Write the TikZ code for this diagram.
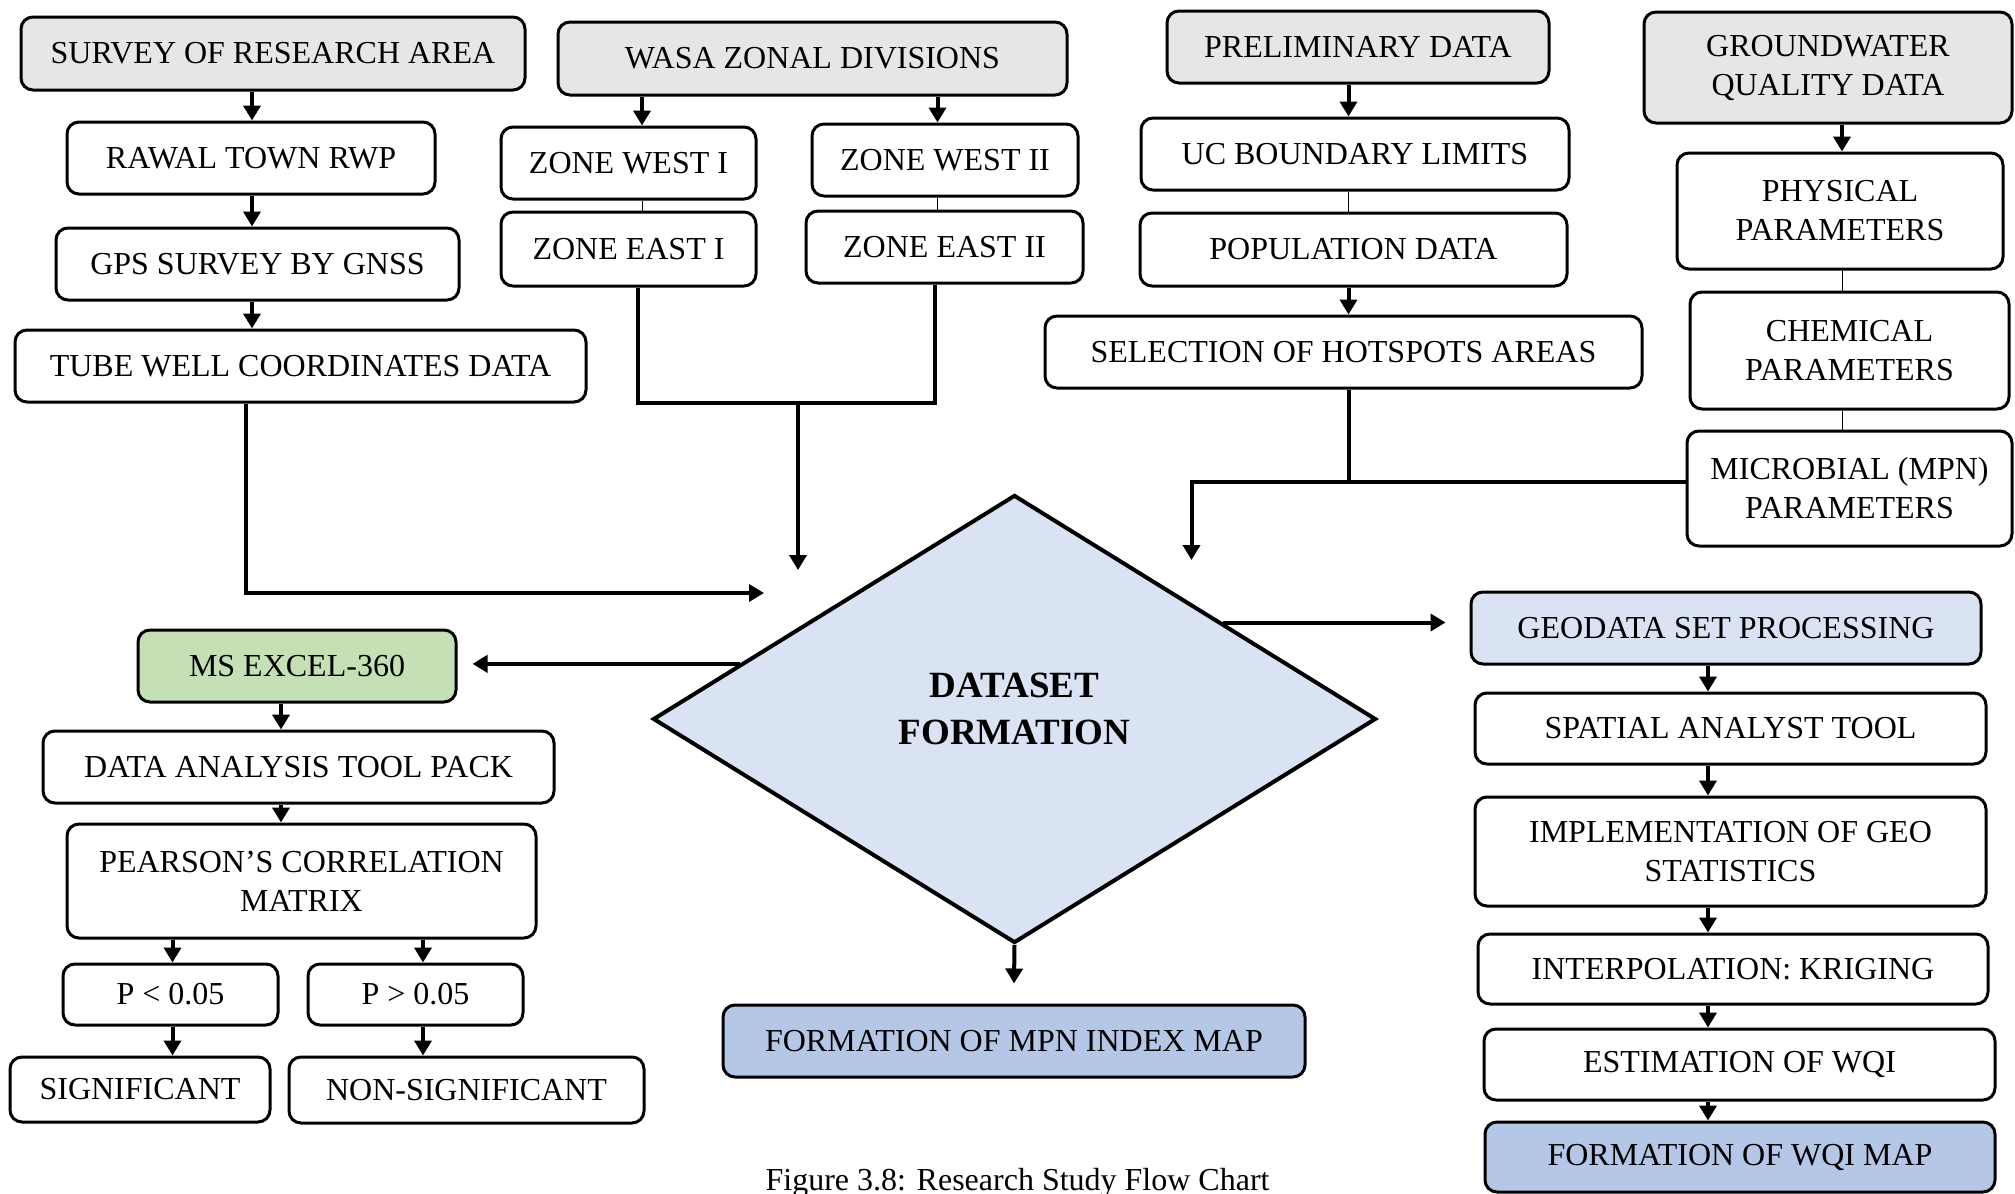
\documentclass[tikz,border=0pt]{standalone}
\usepackage{fontspec}
\setmainfont{Liberation Serif}
\usetikzlibrary{shapes.geometric,arrows.meta,calc}
\definecolor{hdrgray}{HTML}{E7E6E6}
\definecolor{paleblue}{HTML}{DAE3F3}
\definecolor{midblue}{HTML}{B4C7E7}
\definecolor{palegreen}{HTML}{C5E0B4}
\begin{document}
\begin{tikzpicture}[x=0.5pt,y=-0.5pt,
  box/.style={draw, line width=1.5pt, rounded corners=6pt, fill=white, align=center,
              inner sep=0pt, font=\fontsize{16}{19.5}\selectfont},
  arr/.style={line width=2pt, -{Triangle[length=7.5pt,width=8.5pt]}},
  link/.style={line width=2pt},
  hair/.style={line width=0.5pt},
]
\useasboundingbox (0,0) rectangle (2015,1194);

% ---------- survey column ----------
\node[box,fill=hdrgray,minimum width=252pt,minimum height=36.5pt] (survey) at (273,53.5) {SURVEY OF RESEARCH AREA};
\node[box,minimum width=184pt,minimum height=36pt] (rawal) at (251,158) {RAWAL TOWN RWP};
\node[box,minimum width=201.5pt,minimum height=36pt] (gps) at (257.5,264) {GPS SURVEY BY GNSS};
\node[box,minimum width=285.5pt,minimum height=36pt] (tube) at (300.5,366) {TUBE WELL COORDINATES DATA};

% ---------- WASA zones ----------
\node[box,fill=hdrgray,minimum width=254.5pt,minimum height=36.5pt] (wasa) at (812.5,58.5) {WASA ZONAL DIVISIONS};
\node[box,minimum width=127.5pt,minimum height=36pt] (zw1) at (628.5,163) {ZONE WEST I};
\node[box,minimum width=127.5pt,minimum height=37pt] (ze1) at (628.5,249) {ZONE EAST I};
\node[box,minimum width=133pt,minimum height=36pt] (zw2) at (945,160) {ZONE WEST II};
\node[box,minimum width=138.5pt,minimum height=36pt] (ze2) at (944.5,247) {ZONE EAST II};

% ---------- preliminary data ----------
\node[box,fill=hdrgray,minimum width=191pt,minimum height=36pt] (prelim) at (1358,47) {PRELIMINARY DATA};
\node[box,minimum width=214pt,minimum height=36pt] (ucb) at (1355,154) {UC BOUNDARY LIMITS};
\node[box,minimum width=213.5pt,minimum height=36.5pt] (pop) at (1353.5,249.5) {POPULATION DATA};
\node[box,minimum width=298.5pt,minimum height=36pt] (sel) at (1343.5,352) {SELECTION OF HOTSPOTS AREAS};

% ---------- groundwater quality ----------
\node[box,fill=hdrgray,minimum width=184pt,minimum height=55.5pt] (gw) at (1828,67.5) {GROUNDWATER\\QUALITY DATA};
\node[box,minimum width=163pt,minimum height=58pt] (phys) at (1840,211) {PHYSICAL\\PARAMETERS};
\node[box,minimum width=159.5pt,minimum height=58.5pt] (chem) at (1849.5,350.5) {CHEMICAL\\PARAMETERS};
\node[box,minimum width=162.5pt,minimum height=57.5pt] (micro) at (1849.5,488.5) {MICROBIAL (MPN)\\PARAMETERS};

% ---------- central decision ----------
\node[diamond,draw,line width=2pt,fill=paleblue,minimum width=361.5pt,minimum height=224pt,inner sep=0pt] (dia) at (1014.5,719) {};
\node[font=\bfseries\fontsize{18.5}{23.5}\selectfont,align=center] (dlabel) at (1014.5,708.5) {DATASET\\FORMATION};
\node[box,fill=midblue,minimum width=291pt,minimum height=36pt] (mpn) at (1014,1041) {FORMATION OF MPN INDEX MAP};

% ---------- statistics branch ----------
\node[box,fill=palegreen,minimum width=159pt,minimum height=36pt] (excel) at (297,666) {MS EXCEL-360};
\node[box,minimum width=255.5pt,minimum height=36pt] (dat) at (298.5,767) {DATA ANALYSIS TOOL PACK};
\node[box,minimum width=234.5pt,minimum height=57pt] (pear) at (301.5,881) {PEARSON’S CORRELATION\\MATRIX};
\node[box,minimum width=107.5pt,minimum height=30.5pt] (plt) at (170.5,994.5) {P < 0.05};
\node[box,minimum width=107.5pt,minimum height=30.5pt] (pgt) at (415.5,994.5) {P > 0.05};
\node[box,minimum width=130pt,minimum height=32.5pt] (sig) at (140,1089.5) {SIGNIFICANT};
\node[box,minimum width=177.5pt,minimum height=33pt] (nsig) at (466.5,1090) {NON-SIGNIFICANT};

% ---------- GIS branch ----------
\node[box,fill=paleblue,minimum width=255pt,minimum height=36pt] (geo) at (1726,628) {GEODATA SET PROCESSING};
\node[box,minimum width=255.5pt,minimum height=35.5pt] (spat) at (1730.5,728.5) {SPATIAL ANALYST TOOL};
\node[box,minimum width=255.5pt,minimum height=54.5pt] (impl) at (1730.5,851.5) {IMPLEMENTATION OF GEO\\STATISTICS};
\node[box,minimum width=255pt,minimum height=35pt] (interp) at (1733,969) {INTERPOLATION: KRIGING};
\node[box,minimum width=255.5pt,minimum height=35.5pt] (est) at (1739.5,1064.5) {ESTIMATION OF WQI};
\node[box,fill=midblue,minimum width=255pt,minimum height=35pt] (wqi) at (1740,1157) {FORMATION OF WQI MAP};

% caption
\node[font=\fontsize{16}{19}\selectfont,anchor=base] (cap) at (1017.6,1190) {Figure 3.8: Research Study Flow Chart};

% ---------- connector columns and junctions ----------
\coordinate (lx) at (252,0);
\coordinate (wx1) at (642,0);
\coordinate (wx2) at (937.5,0);
\coordinate (zx1) at (638,0);
\coordinate (zx2) at (935,0);
\coordinate (zj) at (798,403);
\coordinate (inT) at (798,570);
\coordinate (tubeX) at (245.5,0);
\coordinate (inL) at (764,593);
\coordinate (px) at (1348.5,0);
\coordinate (hj) at (1348.5,482);
\coordinate (inR) at (1191.5,560);
\coordinate (gx) at (1842,0);
\coordinate (ex) at (281,0);
\coordinate (qx1) at (172.5,0);
\coordinate (qx2) at (423,0);
\coordinate (rx) at (1708,0);
\coordinate (dL) at ($(dia.west)!0.244!(dia.north)$);
\coordinate (dR) at ($(dia.east)!0.427!(dia.north)$);
\coordinate (exTip) at ($(excel.east)+(15,0)$);
\coordinate (geoTip) at ($(geo.west)+(-24,0)$);
\coordinate (mpnTip) at ($(mpn.north)+(0,-20)$);

% survey column
\draw[arr] (survey.south -| lx) -- (rawal.north -| lx);
\draw[arr] (rawal.south -| lx) -- (gps.north -| lx);
\draw[arr] (gps.south -| lx) -- (tube.north -| lx);
\draw[arr] (tube.south -| tubeX) |- (inL);

% zones
\draw[arr] (wasa.south -| wx1) -- (zw1.north -| wx1);
\draw[arr] (wasa.south -| wx2) -- (zw2.north -| wx2);
\draw[hair] (zw1.south -| wx1) -- (ze1.north -| wx1);
\draw[hair] (zw2.south -| wx2) -- (ze2.north -| wx2);
\draw[link] (ze1.south -| zx1) |- (zj) -| (ze2.south -| zx2);
\draw[arr] (zj) -- (inT);

% preliminary data
\draw[arr] (prelim.south -| px) -- (ucb.north -| px);
\draw[hair] (ucb.south -| px) -- (pop.north -| px);
\draw[arr] (pop.south -| px) -- (sel.north -| px);
\draw[link] (sel.south -| px) -- (hj);

% groundwater quality
\draw[arr] (gw.south -| gx) -- (phys.north -| gx);
\draw[hair] (phys.south -| gx) -- (chem.north -| gx);
\draw[hair] (chem.south -| gx) -- (micro.north -| gx);
\draw[arr] (micro.west |- hj) -| (inR);

% outputs of the diamond
\draw[arr] (dL) -- (dL -| exTip);
\draw[arr] (dR) -- (dR -| geoTip);
\draw[arr] (dia.south) -- (mpnTip);

% statistics branch
\draw[arr] (excel.south -| ex) -- (dat.north -| ex);
\draw[arr] (dat.south -| ex) -- (pear.north -| ex);
\draw[arr] (pear.south -| qx1) -- (plt.north -| qx1);
\draw[arr] (pear.south -| qx2) -- (pgt.north -| qx2);
\draw[arr] (plt.south -| qx1) -- (sig.north -| qx1);
\draw[arr] (pgt.south -| qx2) -- (nsig.north -| qx2);

% GIS branch
\draw[arr] (geo.south -| rx) -- (spat.north -| rx);
\draw[arr] (spat.south -| rx) -- (impl.north -| rx);
\draw[arr] (impl.south -| rx) -- (interp.north -| rx);
\draw[arr] (interp.south -| rx) -- (est.north -| rx);
\draw[arr] (est.south -| rx) -- (wqi.north -| rx);
\end{tikzpicture}
\end{document}
